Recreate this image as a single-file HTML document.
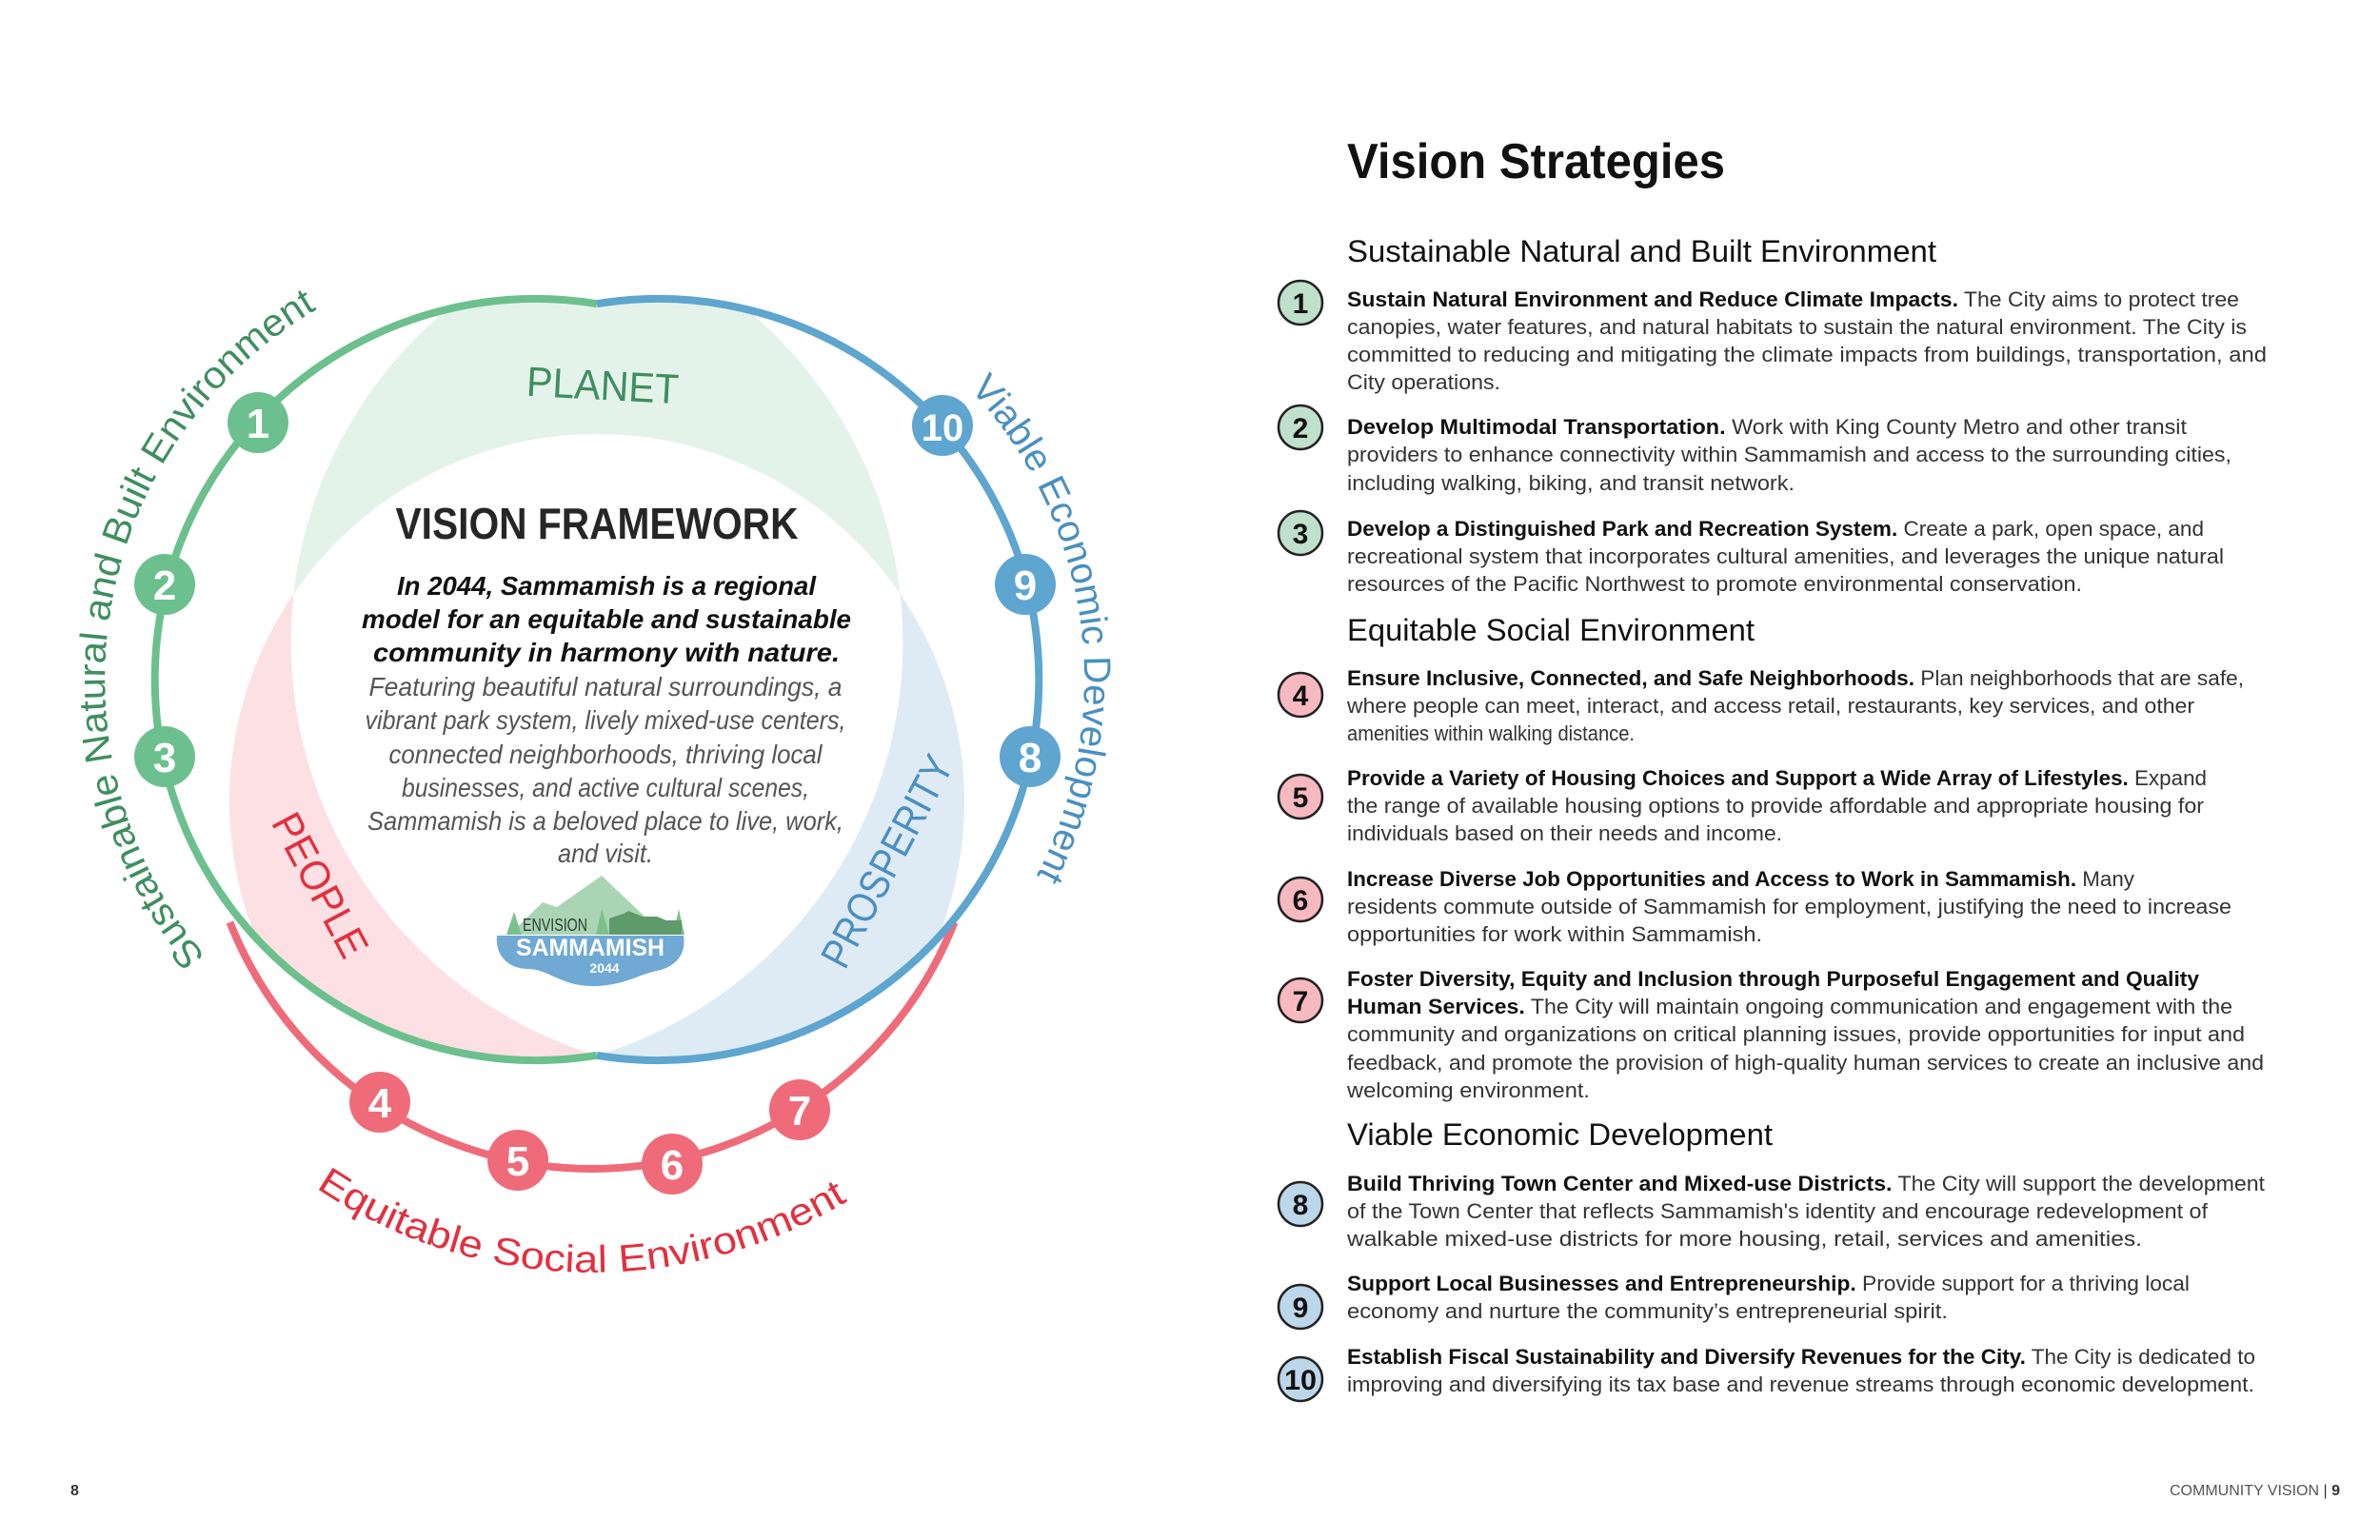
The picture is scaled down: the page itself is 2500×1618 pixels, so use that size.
<!DOCTYPE html>
<html><head><meta charset="utf-8"><style>
html,body{margin:0;padding:0;background:#fff;}
svg{display:block;}
</style></head><body>
<svg width="2500" height="1618" viewBox="0 0 2500 1618" xmlns="http://www.w3.org/2000/svg" font-family="'Liberation Sans', sans-serif">
<defs>
<clipPath id="ring"><circle cx="562" cy="714" r="400"/><circle cx="691" cy="714" r="400"/></clipPath>
<clipPath id="cx"><circle cx="760" cy="674.5" r="454.4"/></clipPath>
<clipPath id="cy"><circle cx="494" cy="674.5" r="454.4"/></clipPath>
<clipPath id="cz"><circle cx="627" cy="842" r="386"/></clipPath>
<path id="pS" d="M216,1005 A452,452 0 0,1 336,323"/>
<path id="pV" d="M1018.6,408.4 A448,448 0 0,1 1086.6,924.2"/>
<path id="pE" d="M332,1248 A518,518 0 0,0 912,1248"/>
</defs>
<rect width="2500" height="1618" fill="#fff"/>

<g clip-path="url(#ring)">
  <g clip-path="url(#cy)"><circle cx="760" cy="674.5" r="454.4" fill="#e4f3e9"/></g>
  <g clip-path="url(#cy)"><circle cx="627" cy="842" r="386" fill="#fce0e3"/></g>
  <g clip-path="url(#cx)"><circle cx="627" cy="842" r="386" fill="#deebf5"/></g>
  <g clip-path="url(#cx)"><g clip-path="url(#cy)"><circle cx="627" cy="842" r="386" fill="#fff"/></g></g>
</g>

<path d="M241.5,969 A409,409 0 0,0 1002.5,969" fill="none" stroke="#ef6b79" stroke-width="8"/>
<path d="M627,319.2 A400,400 0 1,0 627,1108.8" fill="none" stroke="#6cc08e" stroke-width="8"/>
<path d="M627,319.2 A400,400 0 1,1 627,1108.8" fill="none" stroke="#5ea5d0" stroke-width="8"/>

<g font-weight="bold" font-size="44" fill="#fff" text-anchor="middle">
<circle cx="271" cy="444" r="32" fill="#6cc08e"/><text x="271" y="460">1</text>
<circle cx="173" cy="614" r="32" fill="#6cc08e"/><text x="173" y="630">2</text>
<circle cx="173" cy="795" r="32" fill="#6cc08e"/><text x="173" y="811">3</text>
<circle cx="990" cy="447" r="32" fill="#5ea5d0"/><text x="990" y="463" font-size="40">10</text>
<circle cx="1077" cy="614" r="32" fill="#5ea5d0"/><text x="1077" y="630">9</text>
<circle cx="1082" cy="795" r="32" fill="#5ea5d0"/><text x="1082" y="811">8</text>
<circle cx="399" cy="1158" r="32" fill="#ef6b79"/><text x="399" y="1174">4</text>
<circle cx="544" cy="1219" r="32" fill="#ef6b79"/><text x="544" y="1235">5</text>
<circle cx="706" cy="1223" r="32" fill="#ef6b79"/><text x="706" y="1239">6</text>
<circle cx="840" cy="1166" r="32" fill="#ef6b79"/><text x="840" y="1182">7</text>
</g>

<text font-size="40" fill="#3f8e60"><textPath href="#pS" textLength="785" lengthAdjust="spacingAndGlyphs">Sustainable Natural and Built Environment</textPath></text>
<text font-size="40" fill="#4a8fc0"><textPath href="#pV" textLength="550" lengthAdjust="spacingAndGlyphs">Viable Economic Development</textPath></text>
<text font-size="40" fill="#e2303f"><textPath href="#pE" textLength="590" lengthAdjust="spacingAndGlyphs">Equitable Social Environment</textPath></text>

<text x="633" y="420" font-size="44" fill="#3f8e60" text-anchor="middle" textLength="160" lengthAdjust="spacingAndGlyphs" transform="rotate(3 633 405)">PLANET</text>
<text x="0" y="0" font-size="44" fill="#e2303f" text-anchor="middle" transform="translate(323,937) rotate(62)" textLength="165" lengthAdjust="spacingAndGlyphs">PEOPLE</text>
<text x="0" y="0" font-size="44" fill="#4a8fc0" text-anchor="middle" transform="translate(945,912) rotate(-62)" textLength="245" lengthAdjust="spacingAndGlyphs">PROSPERITY</text>

<text x="627" y="566" font-size="46" font-weight="bold" fill="#262626" text-anchor="middle" textLength="423" lengthAdjust="spacingAndGlyphs">VISION FRAMEWORK</text>
<g font-size="28" font-style="italic" font-weight="bold" fill="#111" text-anchor="middle">
<text x="637" y="625" textLength="440" lengthAdjust="spacingAndGlyphs">In 2044, Sammamish is a regional</text>
<text x="637" y="660" textLength="514" lengthAdjust="spacingAndGlyphs">model for an equitable and sustainable</text>
<text x="637" y="695" textLength="490" lengthAdjust="spacingAndGlyphs">community in harmony with nature.</text>
</g>
<g font-size="28" font-style="italic" fill="#555" text-anchor="middle">
<text x="636" y="731" textLength="497" lengthAdjust="spacingAndGlyphs">Featuring beautiful natural surroundings, a</text>
<text x="636" y="766" textLength="505" lengthAdjust="spacingAndGlyphs">vibrant park system, lively mixed-use centers,</text>
<text x="636" y="802" textLength="455" lengthAdjust="spacingAndGlyphs">connected neighborhoods, thriving local</text>
<text x="636" y="837" textLength="428" lengthAdjust="spacingAndGlyphs">businesses, and active cultural scenes,</text>
<text x="636" y="872" textLength="500" lengthAdjust="spacingAndGlyphs">Sammamish is a beloved place to live, work,</text>
<text x="636" y="906" textLength="100" lengthAdjust="spacingAndGlyphs">and visit.</text>
</g>

<!-- logo -->
<g>
<polygon points="535,982 570,948 585,953 632,920 690,975 715,982" fill="#a9d5b4"/>
<polygon points="532,982 540,958 548,982" fill="#7cc08e"/>
<polygon points="626,982 632,955 640,982" fill="#7cc08e"/>
<polygon points="707,982 713,955 719,982" fill="#7cc08e"/>
<polygon points="640,982 640,965 655,960 660,957 675,963 690,963 700,967 716,967 716,982" fill="#5e9a6a"/>
<path d="M522,983 L718,983 C722,1010 700,1018 690,1020 C670,1024 655,1036 622,1036 C590,1036 575,1018 555,1018 C535,1018 520,1005 522,983 Z" fill="#6fa9d4"/>
<text x="549" y="978" font-size="18" fill="#2d3d33" textLength="68" lengthAdjust="spacingAndGlyphs">ENVISION</text>
<text x="620" y="1004" font-size="25" font-weight="bold" fill="#fff" text-anchor="middle" textLength="156" lengthAdjust="spacingAndGlyphs">SAMMAMISH</text>
<text x="635" y="1022" font-size="14" font-weight="bold" fill="#fff" text-anchor="middle">2044</text>
</g>

<!-- right column -->
<text x="1415" y="187" font-size="52" font-weight="bold" fill="#111" textLength="397" lengthAdjust="spacingAndGlyphs">Vision Strategies</text>
<g font-size="32" fill="#111">
<text x="1415" y="275" textLength="619" lengthAdjust="spacingAndGlyphs">Sustainable Natural and Built Environment</text>
<text x="1415" y="673" textLength="428" lengthAdjust="spacingAndGlyphs">Equitable Social Environment</text>
<text x="1415" y="1203" textLength="447" lengthAdjust="spacingAndGlyphs">Viable Economic Development</text>
</g>

<g stroke="#222" stroke-width="2.5">
<circle cx="1366" cy="318" r="23" fill="#bfe0cb"/>
<circle cx="1366" cy="449" r="23" fill="#bfe0cb"/>
<circle cx="1366" cy="560" r="23" fill="#bfe0cb"/>
<circle cx="1366" cy="730" r="23" fill="#f6b9bf"/>
<circle cx="1366" cy="837" r="23" fill="#f6b9bf"/>
<circle cx="1366" cy="945" r="23" fill="#f6b9bf"/>
<circle cx="1366" cy="1051" r="23" fill="#f6b9bf"/>
<circle cx="1366" cy="1265" r="23" fill="#bcd6ea"/>
<circle cx="1366" cy="1373" r="23" fill="#bcd6ea"/>
<circle cx="1366" cy="1449" r="23" fill="#bcd6ea"/>
</g>
<g font-size="30" font-weight="bold" fill="#111" text-anchor="middle">
<text x="1366" y="329">1</text><text x="1366" y="460">2</text><text x="1366" y="571">3</text>
<text x="1366" y="741">4</text><text x="1366" y="848">5</text><text x="1366" y="956">6</text>
<text x="1366" y="1062">7</text><text x="1366" y="1276">8</text><text x="1366" y="1384">9</text>
<text x="1366" y="1460" textLength="34" lengthAdjust="spacingAndGlyphs">10</text>
</g>

<g font-size="22" fill="#333">
<text x="1415" y="322" textLength="937" lengthAdjust="spacingAndGlyphs"><tspan font-weight="bold" fill="#111">Sustain Natural Environment and Reduce Climate Impacts.</tspan> The City aims to protect tree</text>
<text x="1415" y="351" textLength="945" lengthAdjust="spacingAndGlyphs">canopies, water features, and natural habitats to sustain the natural environment. The City is</text>
<text x="1415" y="380" textLength="966" lengthAdjust="spacingAndGlyphs">committed to reducing and mitigating the climate impacts from buildings, transportation, and</text>
<text x="1415" y="409" textLength="161" lengthAdjust="spacingAndGlyphs">City operations.</text>

<text x="1415" y="456" textLength="882" lengthAdjust="spacingAndGlyphs"><tspan font-weight="bold" fill="#111">Develop Multimodal Transportation.</tspan> Work with King County Metro and other transit</text>
<text x="1415" y="485" textLength="929" lengthAdjust="spacingAndGlyphs">providers to enhance connectivity within Sammamish and access to the surrounding cities,</text>
<text x="1415" y="515" textLength="470" lengthAdjust="spacingAndGlyphs">including walking, biking, and transit network.</text>

<text x="1415" y="563" textLength="900" lengthAdjust="spacingAndGlyphs"><tspan font-weight="bold" fill="#111">Develop a Distinguished Park and Recreation System.</tspan> Create a park, open space, and</text>
<text x="1415" y="592" textLength="921" lengthAdjust="spacingAndGlyphs">recreational system that incorporates cultural amenities, and leverages the unique natural</text>
<text x="1415" y="621" textLength="772" lengthAdjust="spacingAndGlyphs">resources of the Pacific Northwest to promote environmental conservation.</text>

<text x="1415" y="720" textLength="942" lengthAdjust="spacingAndGlyphs"><tspan font-weight="bold" fill="#111">Ensure Inclusive, Connected, and Safe Neighborhoods.</tspan> Plan neighborhoods that are safe,</text>
<text x="1415" y="749" textLength="890" lengthAdjust="spacingAndGlyphs">where people can meet, interact, and access retail, restaurants, key services, and other</text>
<text x="1415" y="778" textLength="302" lengthAdjust="spacingAndGlyphs">amenities within walking distance.</text>

<text x="1415" y="825" textLength="903" lengthAdjust="spacingAndGlyphs"><tspan font-weight="bold" fill="#111">Provide a Variety of Housing Choices and Support a Wide Array of Lifestyles.</tspan> Expand</text>
<text x="1415" y="854" textLength="900" lengthAdjust="spacingAndGlyphs">the range of available housing options to provide affordable and appropriate housing for</text>
<text x="1415" y="883" textLength="457" lengthAdjust="spacingAndGlyphs">individuals based on their needs and income.</text>

<text x="1415" y="931" textLength="827" lengthAdjust="spacingAndGlyphs"><tspan font-weight="bold" fill="#111">Increase Diverse Job Opportunities and Access to Work in Sammamish.</tspan> Many</text>
<text x="1415" y="960" textLength="929" lengthAdjust="spacingAndGlyphs">residents commute outside of Sammamish for employment, justifying the need to increase</text>
<text x="1415" y="989" textLength="436" lengthAdjust="spacingAndGlyphs">opportunities for work within Sammamish.</text>

<text x="1415" y="1036" textLength="895" lengthAdjust="spacingAndGlyphs" font-weight="bold" fill="#111">Foster Diversity, Equity and Inclusion through Purposeful Engagement and Quality</text>
<text x="1415" y="1065" textLength="930" lengthAdjust="spacingAndGlyphs"><tspan font-weight="bold" fill="#111">Human Services.</tspan> The City will maintain ongoing communication and engagement with the</text>
<text x="1415" y="1094" textLength="943" lengthAdjust="spacingAndGlyphs">community and organizations on critical planning issues, provide opportunities for input and</text>
<text x="1415" y="1124" textLength="963" lengthAdjust="spacingAndGlyphs">feedback, and promote the provision of high-quality human services to create an inclusive and</text>
<text x="1415" y="1153" textLength="255" lengthAdjust="spacingAndGlyphs">welcoming environment.</text>

<text x="1415" y="1251" textLength="964" lengthAdjust="spacingAndGlyphs"><tspan font-weight="bold" fill="#111">Build Thriving Town Center and Mixed-use Districts.</tspan> The City will support the development</text>
<text x="1415" y="1280" textLength="904" lengthAdjust="spacingAndGlyphs">of the Town Center that reflects Sammamish's identity and encourage redevelopment of</text>
<text x="1415" y="1309" textLength="835" lengthAdjust="spacingAndGlyphs">walkable mixed-use districts for more housing, retail, services and amenities.</text>

<text x="1415" y="1356" textLength="885" lengthAdjust="spacingAndGlyphs"><tspan font-weight="bold" fill="#111">Support Local Businesses and Entrepreneurship.</tspan> Provide support for a thriving local</text>
<text x="1415" y="1385" textLength="631" lengthAdjust="spacingAndGlyphs">economy and nurture the community’s entrepreneurial spirit.</text>

<text x="1415" y="1433" textLength="954" lengthAdjust="spacingAndGlyphs"><tspan font-weight="bold" fill="#111">Establish Fiscal Sustainability and Diversify Revenues for the City.</tspan> The City is dedicated to</text>
<text x="1415" y="1462" textLength="953" lengthAdjust="spacingAndGlyphs">improving and diversifying its tax base and revenue streams through economic development.</text>
</g>

<text x="74" y="1571" font-size="16" font-weight="bold" fill="#333">8</text>
<text x="2458" y="1571" font-size="16" fill="#555" text-anchor="end">COMMUNITY VISION  <tspan fill="#333">|</tspan>  <tspan font-weight="bold" fill="#333">9</tspan></text>
</svg>
</body></html>
